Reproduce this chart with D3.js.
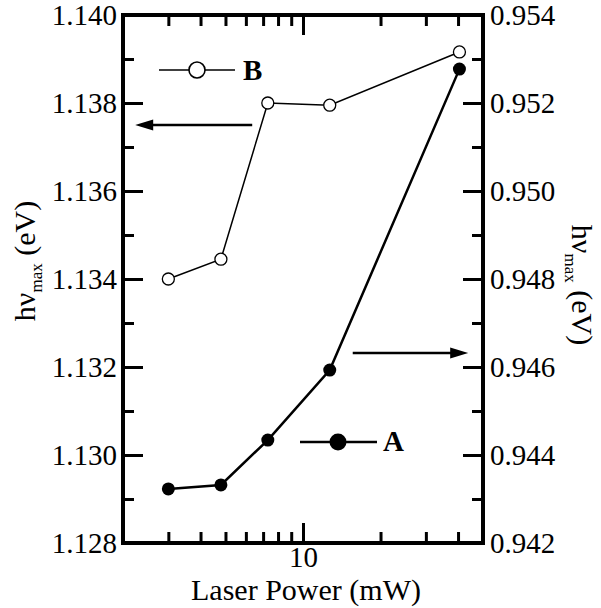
<!DOCTYPE html>
<html><head><meta charset="utf-8"><script src="https://cdn.jsdelivr.net/npm/d3@7"></script></head>
<body style="margin:0">
<svg id="chart" width="601" height="608"></svg>
<script>
// ---- data ----
const laserPower = [3, 4.8, 7.3, 12.7, 40.5];                 // mW
const seriesB = [1.1340, 1.13445, 1.1380, 1.13795, 1.13916];   // left axis (eV), open circles
const seriesA = [0.94323, 0.94332, 0.94434, 0.94593, 0.95277]; // right axis (eV), filled circles
const xTicks = [3, 4, 5, 6, 7, 8, 9, 10, 20, 30, 40];
const xMajorTicks = [10];
const yLeftMajor = [1.128, 1.130, 1.132, 1.134, 1.136, 1.138, 1.140];
const yLeftMinor = [1.129, 1.131, 1.133, 1.135, 1.137, 1.139];
const yRightMajor = [0.942, 0.944, 0.946, 0.948, 0.950, 0.952, 0.954];
const yRightMinor = [0.943, 0.945, 0.947, 0.949, 0.951, 0.953];

// ---- layout ----
const L = 123, R = 483, T = 15, B = 543;
const FONT = '"Liberation Serif"';
const svg = d3.select("#chart").style("display", "block").style("font-family", FONT);

const x = d3.scaleLog().domain([2, 50]).range([L, R]);
const yL = d3.scaleLinear().domain([1.128, 1.140]).range([B, T]);
const yR = d3.scaleLinear().domain([0.942, 0.954]).range([B, T]);

const fmt = d3.format(".3f");
const tickFont = 29;

function styleAxis(g) {
  g.attr("font-family", null).attr("font-size", null).style("font-family", FONT);
  g.select(".domain").remove();
  g.selectAll(".tick line").attr("stroke", "#000").attr("stroke-width", 3);
  g.selectAll(".tick text").style("font-family", FONT).attr("font-size", tickFont).attr("fill", "#000");
}

// bottom axis: minor + major
svg.append("g").attr("transform", `translate(0,${B})`)
  .call(d3.axisBottom(x).tickValues(xTicks.filter(v => !xMajorTicks.includes(v))).tickSizeInner(-11).tickSizeOuter(0).tickFormat(""))
  .call(styleAxis);
svg.append("g").attr("transform", `translate(0,${B})`)
  .call(d3.axisBottom(x).tickValues(xMajorTicks).tickSizeInner(-20).tickSizeOuter(0).tickPadding(3).tickFormat(d3.format("d")))
  .call(styleAxis);
// top axis (mirrored ticks)
svg.append("g").attr("transform", `translate(0,${T})`)
  .call(d3.axisTop(x).tickValues(xTicks.filter(v => !xMajorTicks.includes(v))).tickSizeInner(-11).tickSizeOuter(0).tickFormat(""))
  .call(styleAxis);
svg.append("g").attr("transform", `translate(0,${T})`)
  .call(d3.axisTop(x).tickValues(xMajorTicks).tickSizeInner(-20).tickSizeOuter(0).tickFormat(""))
  .call(styleAxis);

// left axis
svg.append("g").attr("transform", `translate(${L},0)`)
  .call(d3.axisLeft(yL).tickValues(yLeftMinor).tickSizeInner(-11).tickSizeOuter(0).tickFormat(""))
  .call(styleAxis);
svg.append("g").attr("transform", `translate(${L},0)`)
  .call(d3.axisLeft(yL).tickValues(yLeftMajor).tickSizeInner(-20).tickSizeOuter(0).tickPadding(6).tickFormat(fmt))
  .call(styleAxis);
// right axis
svg.append("g").attr("transform", `translate(${R},0)`)
  .call(d3.axisRight(yR).tickValues(yRightMinor).tickSizeInner(-11).tickSizeOuter(0).tickFormat(""))
  .call(styleAxis);
svg.append("g").attr("transform", `translate(${R},0)`)
  .call(d3.axisRight(yR).tickValues(yRightMajor).tickSizeInner(-20).tickSizeOuter(0).tickPadding(7).tickFormat(fmt))
  .call(styleAxis);

// frame
svg.append("rect").attr("x", L).attr("y", T).attr("width", R - L).attr("height", B - T)
  .attr("fill", "none").attr("stroke", "#000").attr("stroke-width", 4);

// ---- series B (open circles, left axis) ----
const dataB = laserPower.map((p, i) => [p, seriesB[i]]);
svg.append("path").datum(dataB)
  .attr("fill", "none").attr("stroke", "#000").attr("stroke-width", 1.5)
  .attr("d", d3.line().x(d => x(d[0])).y(d => yL(d[1])));
svg.selectAll("circle.b").data(dataB).join("circle").attr("class", "b")
  .attr("cx", d => x(d[0])).attr("cy", d => yL(d[1])).attr("r", 6)
  .attr("fill", "#fff").attr("stroke", "#000").attr("stroke-width", 1.3);

// ---- series A (filled circles, right axis) ----
const dataA = laserPower.map((p, i) => [p, seriesA[i]]);
svg.append("path").datum(dataA)
  .attr("fill", "none").attr("stroke", "#000").attr("stroke-width", 2.5)
  .attr("d", d3.line().x(d => x(d[0])).y(d => yR(d[1])));
svg.selectAll("circle.a").data(dataA).join("circle").attr("class", "a")
  .attr("cx", d => x(d[0])).attr("cy", d => yR(d[1])).attr("r", 6.5)
  .attr("fill", "#000");

// ---- arrows (in data coordinates) ----
function arrow(x1, x2, yy, scaleY) {
  const px1 = x(x1), px2 = x(x2), py = scaleY(yy);
  const dir = Math.sign(px2 - px1);
  const headLen = 18, headHalf = 5.5;
  svg.append("line").attr("x1", px1).attr("y1", py).attr("x2", px2 - dir * headLen * 0.8).attr("y2", py)
    .attr("stroke", "#000").attr("stroke-width", 2.5);
  svg.append("path")
    .attr("d", `M${px2},${py} L${px2 - dir * headLen},${py - headHalf} L${px2 - dir * headLen},${py + headHalf} Z`)
    .attr("fill", "#000");
}
arrow(6.35, 2.23, 1.1375, yL);
arrow(15.6, 43.8, 0.94632, yR);

// ---- legends ----
const legB = svg.append("g");
legB.append("line").attr("x1", 159).attr("x2", 235).attr("y1", 70).attr("y2", 70).attr("stroke", "#000").attr("stroke-width", 1.5);
legB.append("circle").attr("cx", 197).attr("cy", 70).attr("r", 8).attr("fill", "#fff").attr("stroke", "#000").attr("stroke-width", 1.6);
legB.append("text").attr("x", 243).attr("y", 80).style("font-family", FONT).attr("font-size", 29).attr("font-weight", "bold").text("B");

const legA = svg.append("g");
legA.append("line").attr("x1", 300).attr("x2", 377).attr("y1", 442).attr("y2", 442).attr("stroke", "#000").attr("stroke-width", 2.5);
legA.append("circle").attr("cx", 338).attr("cy", 442).attr("r", 8.5).attr("fill", "#000");
legA.append("text").attr("x", 383).attr("y", 451).style("font-family", FONT).attr("font-size", 29).attr("font-weight", "bold").text("A");

// ---- axis titles ----
svg.append("text").attr("x", 306).attr("y", 600).attr("text-anchor", "middle")
  .style("font-family", FONT).attr("font-size", 30).text("Laser Power (mW)");

function yTitle(tx, ty, rot) {
  const t = svg.append("text").attr("transform", `translate(${tx},${ty}) rotate(${rot})`)
    .attr("text-anchor", "middle").style("font-family", FONT).attr("font-size", 30);
  t.append("tspan").text("hν");
  t.append("tspan").attr("font-size", 17).attr("dy", 7).text("max");
  t.append("tspan").attr("dy", -7).text(" (eV)");
}
yTitle(35, 261, -90);
yTitle(572, 285, 90);
</script>
</body>
</html>
